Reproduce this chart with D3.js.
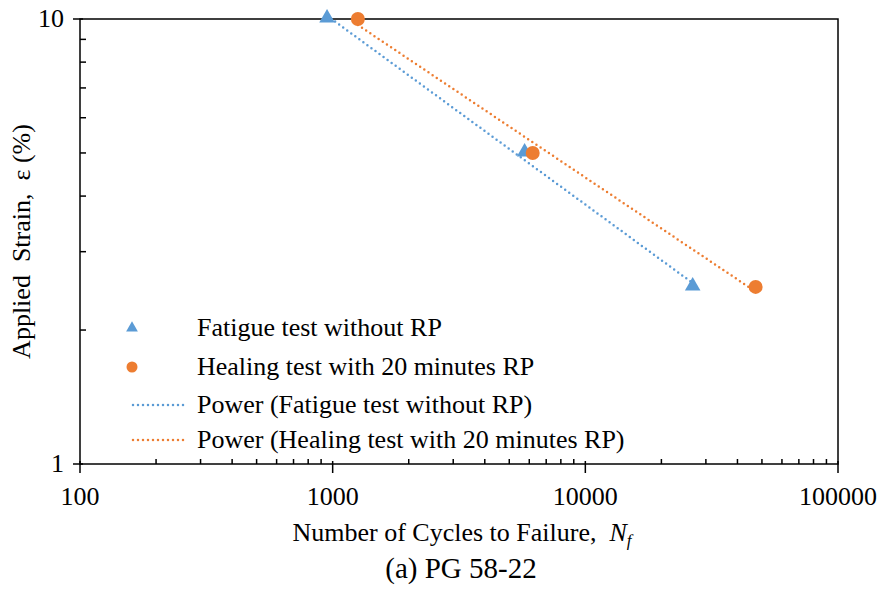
<!DOCTYPE html>
<html>
<head>
<meta charset="utf-8">
<script src="https://cdn.jsdelivr.net/npm/d3@7"></script>
<style>
  html, body { margin: 0; padding: 0; background: #fff; }
  svg { display: block; }
</style>
</head>
<body>
<svg id="chart" width="884" height="589"></svg>
<script>
// Fatigue life data (cycles to failure vs applied strain)
const fatigueCycles = [950, 5750, 26600];
const fatigueStrain = [10, 5, 2.5];
const healingCycles = [1258, 6190, 47200];
const healingStrain = [10, 5, 2.5];

const xMajorTicks = [100, 1000, 10000, 100000];
const xTickLabels = ["100", "1000", "10000", "100000"];
const yMajorTicks = [1, 10];
const yTickLabels = ["1", "10"];

const seriesNames = [
  "Fatigue test without RP",
  "Healing test with 20 minutes RP",
  "Power (Fatigue test without RP)",
  "Power (Healing test with 20 minutes RP)"
];

const blue = "#5B9BD5";
const orange = "#ED7D31";

const svg = d3.select("#chart");
const plotLeft = 80, plotRight = 838, plotTop = 19, plotBottom = 464;
const serif = "Times New Roman, Times, Tinos, Liberation Serif, DejaVu Serif, Noto Serif, serif";

const x = d3.scaleLog().domain([100, 100000]).range([plotLeft, plotRight]);
const y = d3.scaleLog().domain([1, 10]).range([plotBottom, plotTop]);

// Minor tick values (2..9 within each decade)
const xMinor = [];
for (let d = 100; d < 100000; d *= 10)
  for (let k = 2; k <= 9; k++) xMinor.push(d * k);
const yMinor = [];
for (let k = 2; k <= 9; k++) yMinor.push(k);

const axisG = svg.append("g").attr("stroke", "#000").attr("stroke-width", 1.5);

// Plot frame
axisG.append("rect")
  .attr("x", plotLeft).attr("y", plotTop)
  .attr("width", plotRight - plotLeft).attr("height", plotBottom - plotTop)
  .attr("fill", "none");

// X ticks
axisG.selectAll(".xminor").data(xMinor).join("line")
  .attr("x1", d => x(d)).attr("x2", d => x(d))
  .attr("y1", plotBottom - 5).attr("y2", plotBottom);
axisG.selectAll(".xmajor").data(xMajorTicks).join("line")
  .attr("x1", d => x(d)).attr("x2", d => x(d))
  .attr("y1", plotBottom - 3).attr("y2", plotBottom + 9);

// Y ticks
axisG.selectAll(".yminor").data(yMinor).join("line")
  .attr("x1", plotLeft).attr("x2", plotLeft + 6)
  .attr("y1", d => y(d)).attr("y2", d => y(d));
axisG.selectAll(".ymajor").data(yMajorTicks).join("line")
  .attr("x1", plotLeft - 7).attr("x2", plotLeft + 3)
  .attr("y1", d => y(d)).attr("y2", d => y(d));

// Tick labels
const fontSize = 26;
svg.append("g").selectAll("text").data(xMajorTicks).join("text")
  .attr("x", d => x(d)).attr("y", 505)
  .attr("text-anchor", "middle")
  .attr("font-family", serif)
  .attr("font-size", fontSize)
  .text((d, i) => xTickLabels[i]);
svg.append("g").selectAll("text").data(yMajorTicks).join("text")
  .attr("x", plotLeft - 16).attr("y", d => y(d) + 8)
  .attr("text-anchor", "end")
  .attr("font-family", serif)
  .attr("font-size", fontSize)
  .text((d, i) => yTickLabels[i]);

// Axis titles
const xt = svg.append("text")
  .attr("x", 462).attr("y", 541)
  .attr("text-anchor", "middle")
  .attr("font-family", serif)
  .attr("font-size", fontSize)
  .attr("xml:space", "preserve");
xt.append("tspan").text("Number of Cycles to Failure,  ");
xt.append("tspan").attr("font-style", "italic").text("N");
xt.append("tspan").attr("font-style", "italic").attr("font-size", 17).attr("dy", 5).text("f");

svg.append("text")
  .attr("transform", `translate(30, ${(plotTop + plotBottom) / 2}) rotate(-90)`)
  .attr("text-anchor", "middle")
  .attr("font-family", serif)
  .attr("font-size", fontSize)
  .attr("xml:space", "preserve")
  .text("Applied  Strain,  ε (%)");

svg.append("text")
  .attr("x", 461).attr("y", 578)
  .attr("text-anchor", "middle")
  .attr("font-family", serif)
  .attr("font-size", 29)
  .text("(a) PG 58-22");

// Power-law trendline via least squares in log-log space
function powerFit(xs, ys) {
  const lx = xs.map(Math.log), ly = ys.map(Math.log);
  const n = lx.length;
  const mx = d3.mean(lx), my = d3.mean(ly);
  let sxy = 0, sxx = 0;
  for (let i = 0; i < n; i++) { sxy += (lx[i] - mx) * (ly[i] - my); sxx += (lx[i] - mx) ** 2; }
  const b = sxy / sxx, a = Math.exp(my - b * mx);
  return v => a * Math.pow(v, b);
}

function trendPoints(xs, ys) {
  const f = powerFit(xs, ys);
  const lo = Math.log10(d3.min(xs)), hi = Math.log10(d3.max(xs));
  return d3.range(0, 41).map(i => {
    const v = Math.pow(10, lo + (hi - lo) * i / 40);
    return [v, f(v)];
  });
}

const line = d3.line().x(d => x(d[0])).y(d => y(d[1]));

const dotted = { "stroke-width": 2.5, "stroke-dasharray": "0 5", "stroke-linecap": "round" };

function drawTrend(xs, ys, color) {
  const p = svg.append("path")
    .datum(trendPoints(xs, ys))
    .attr("d", line)
    .attr("fill", "none")
    .attr("stroke", color);
  Object.entries(dotted).forEach(([k, v]) => p.attr(k, v));
}
drawTrend(fatigueCycles, fatigueStrain, blue);
drawTrend(healingCycles, healingStrain, orange);

// Markers
const tri = d3.symbol().type(d3.symbolTriangle).size(105);
svg.append("g").selectAll("path")
  .data(fatigueCycles.map((c, i) => [c, fatigueStrain[i]]))
  .join("path")
  .attr("d", tri)
  .attr("transform", d => `translate(${x(d[0])},${y(d[1]) - 1})`)
  .attr("fill", blue);
svg.append("g").selectAll("circle")
  .data(healingCycles.map((c, i) => [c, healingStrain[i]]))
  .join("circle")
  .attr("cx", d => x(d[0])).attr("cy", d => y(d[1]))
  .attr("r", 7).attr("fill", orange);

// Legend
const legend = svg.append("g");
const rows = [328, 367, 405, 440];
const textX = 197;
legend.append("path").attr("d", d3.symbol().type(d3.symbolTriangle).size(60))
  .attr("transform", `translate(132,${rows[0]})`).attr("fill", blue);
legend.append("circle").attr("cx", 132).attr("cy", rows[1]).attr("r", 5.5).attr("fill", orange);
[[rows[2], blue], [rows[3], orange]].forEach(([ry, c]) => {
  const p = legend.append("line")
    .attr("x1", 133).attr("x2", 187).attr("y1", ry).attr("y2", ry)
    .attr("stroke", c);
  Object.entries(dotted).forEach(([k, v]) => p.attr(k, v));
});
legend.selectAll("text").data(seriesNames).join("text")
  .attr("x", textX).attr("y", (d, i) => rows[i] + 8)
  .attr("font-family", serif)
  .attr("font-size", fontSize)
  .text(d => d);
</script>
</body>
</html>
